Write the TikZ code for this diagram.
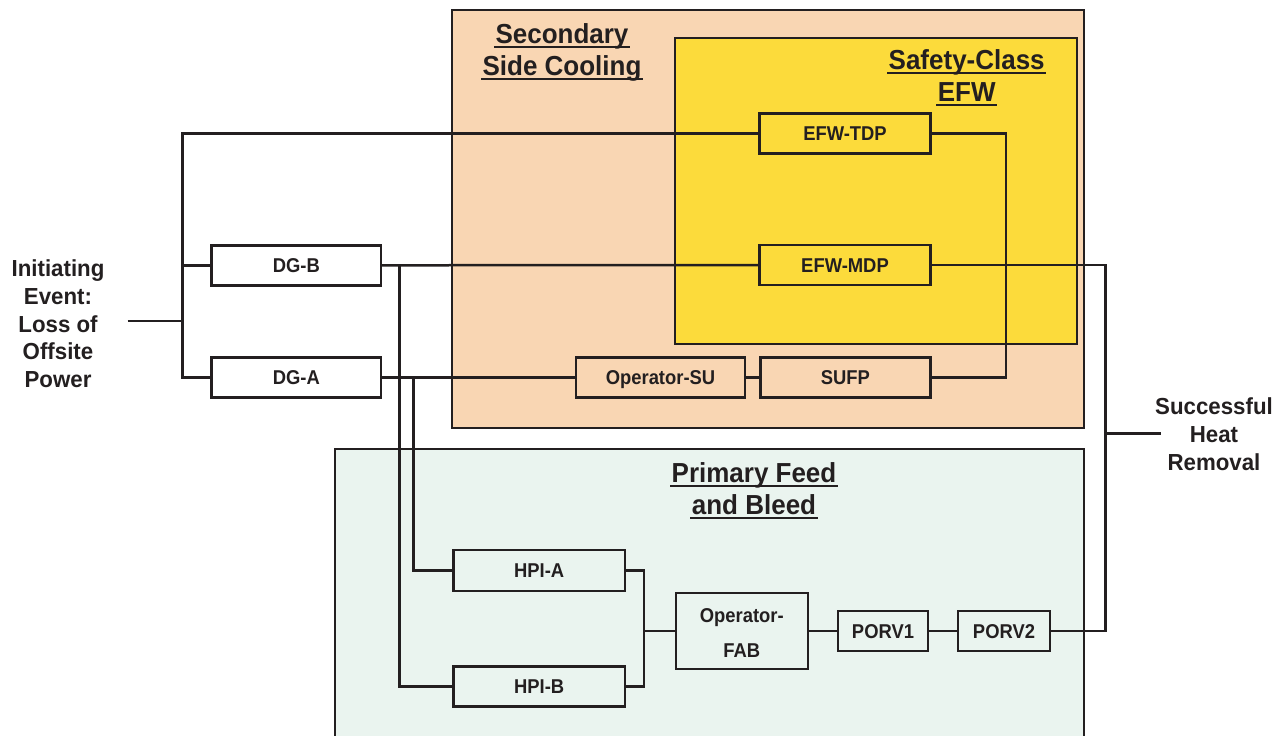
\documentclass[tikz,border=0pt]{standalone}
\usepackage{fontspec}
\setmainfont{Liberation Sans}
\newfontfamily\boxfont[FakeStretch=0.92]{Liberation Sans}
\newfontfamily\titlefont[FakeStretch=0.945]{Liberation Sans}
\newfontfamily\sidefont[FakeStretch=0.96]{Liberation Sans}
\definecolor{ink}{HTML}{231F20}
\definecolor{secfill}{HTML}{F9D6B3}
\definecolor{efwfill}{HTML}{FCDB3B}
\definecolor{prifill}{HTML}{EAF4EF}
% heavy underline for the region titles
\newcommand\ulbar[1]{\setbox0=\hbox{#1}\hbox{\rlap{\kern-1.5pt\rule[-5pt]{\dimexpr\wd0+3pt\relax}{2.3pt}}\box0}}

\begin{document}
\begin{tikzpicture}[x=1pt,y=-1pt,color=ink,
  wire/.style={line width=2.5pt,line join=miter},
  region/.style={draw=ink,line width=2.5pt},
  blk/.style={draw,line width=2.5pt,inner sep=0pt,minimum height=40,
    font=\boxfont\bfseries\fontsize{20}{24}\selectfont,
    text height=14.3pt,text depth=0pt},
  title/.style={align=center,inner sep=0pt,
    font=\titlefont\bfseries\fontsize{27.5}{32}\selectfont},
  sidetext/.style={align=center,inner sep=0pt,
    font=\sidefont\bfseries\fontsize{23.2}{27.7}\selectfont}]

\useasboundingbox (0,0) rectangle (1285,736);
\clip (0,0) rectangle (1285,736);

% system regions
\draw[region,fill=secfill] (452,10) rectangle (1084,428);
\draw[region,fill=efwfill] (675,38) rectangle (1077,344);
\draw[region,fill=prifill] (335,449) rectangle (1084,760);

\node[title] (sectitle) at (562,52) {\ulbar{Secondary}\\\ulbar{Side Cooling}};
\node[title] (efwtitle) at (966.7,78) {\ulbar{Safety-Class}\\\ulbar{EFW}};
\node[title] (prititle) at (754,491) {\ulbar{Primary Feed}\\\ulbar{and Bleed}};

% components
\node[blk,minimum width=171] (efwtdp) at (845,133.7) {EFW-TDP};
\node[blk,minimum width=171] (efwmdp) at (845,265) {EFW-MDP};
\node[blk,minimum width=170] (sufp) at (845.3,377.5) {SUFP};
\node[blk,minimum width=169] (opsu) at (660.5,377.5) {Operator-SU};
\node[blk,minimum width=169.3] (dgb) at (296.3,265.3) {DG-B};
\node[blk,minimum width=169.3] (dga) at (296.3,377.5) {DG-A};
\node[blk,minimum width=171.7,minimum height=41] (hpia) at (539.2,570.5) {HPI-A};
\node[blk,minimum width=171.7] (hpib) at (539.2,686.5) {HPI-B};
\node[blk,minimum width=132,minimum height=75.7,align=center,
  text height=,text depth=,font=\boxfont\bfseries\fontsize{20}{35}\selectfont]
  (fab) at (741.8,631) {\rule{0pt}{18.6pt}Operator-\\FAB};
\node[blk,minimum width=90] (porv1) at (883,631) {PORV1};
\node[blk,minimum width=92] (porv2) at (1004,631) {PORV2};

% end states
\node[sidetext] (ietext) at (58,324) {Initiating\\Event:\\Loss of\\Offsite\\Power};
\node[sidetext] (shrtext) at (1214,434.3) {Successful\\Heat\\Removal};

% bus lines
\coordinate (lbus) at (182.3,0);
\coordinate (ie) at (127.5,321);
\coordinate (vb) at (399.5,0);
\coordinate (va) at (413.5,0);
\coordinate (hbus) at (644,0);
\coordinate (tbus) at (1006,0);
\coordinate (rbus) at (1105.3,0);
\coordinate (shr) at (1160.5,433.3);

\draw[wire] (efwtdp.west) -- (lbus |- efwtdp.west) -- (lbus |- dga.west) -- (dga.west);
\draw[wire] (dgb.west) -- (lbus |- dgb.west);
\draw[wire] (ie) -- (lbus |- ie);
\draw[wire] (dgb.east) -- (efwmdp.west);
\draw[wire] (dga.east) -- (opsu.west);
\draw[wire] (opsu.east) -- (sufp.west);
\draw[wire] (vb |- dgb.east) -- (vb |- hpib.west) -- (hpib.west);
\draw[wire] (va |- dga.east) -- (va |- hpia.west) -- (hpia.west);
\draw[wire] (hpia.east) -- (hbus |- hpia.east) -- (hbus |- hpib.east) -- (hpib.east);
\draw[wire] (hbus |- fab.west) -- (fab.west);
\draw[wire] (fab.east) -- (porv1.west);
\draw[wire] (porv1.east) -- (porv2.west);
\draw[wire] (porv2.east) -- (rbus |- porv2.east) -- (rbus |- efwmdp.east) -- (efwmdp.east);
\draw[wire] (shr) -- (rbus |- shr);
\draw[wire] (efwtdp.east) -- (tbus |- efwtdp.east) -- (tbus |- sufp.east) -- (sufp.east);
\end{tikzpicture}
\end{document}
